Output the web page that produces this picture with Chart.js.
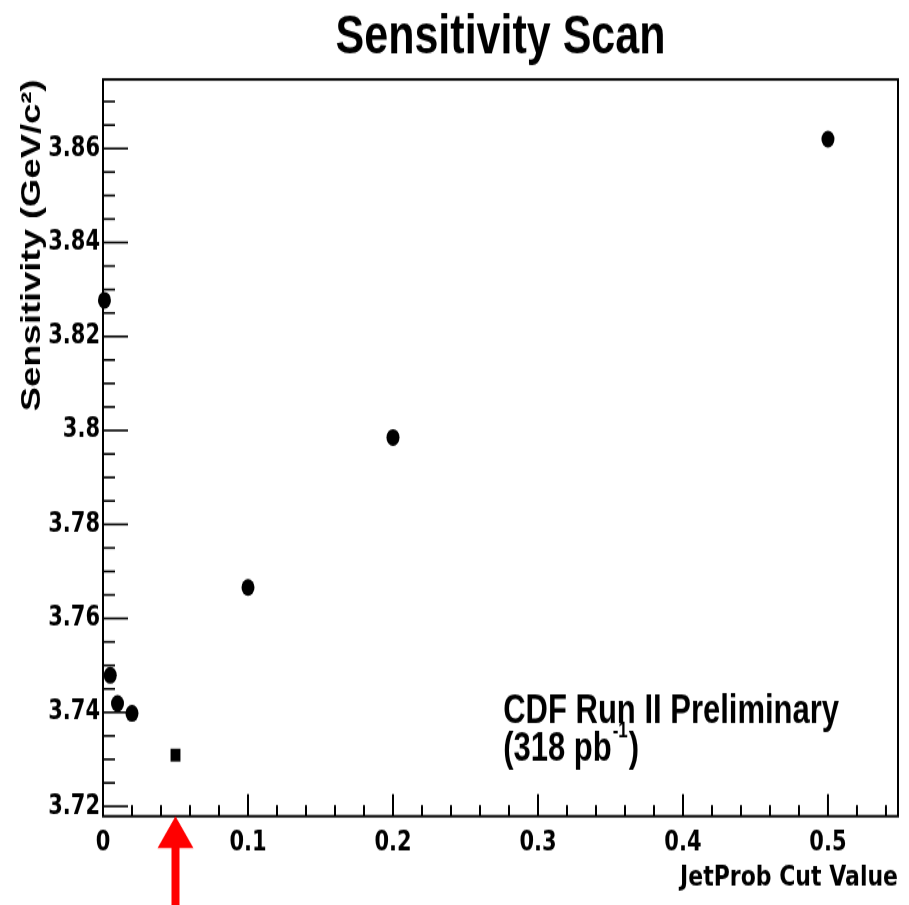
<!DOCTYPE html>
<html>
<head>
<meta charset="utf-8">
<script src="https://cdn.jsdelivr.net/npm/chart.js@4"></script>
<style>
  html, body { margin: 0; padding: 0; background: #fff; }
  #page { width: 909px; height: 905px; }
  /* the original picture is stretched vertically, so draw on a shorter canvas and stretch it */
  #wrap { width: 909px; height: 696px; transform: scaleY(1.3003); transform-origin: 0 0; }
</style>
</head>
<body>
<div id="page"><div id="wrap"><canvas id="myChart" width="909" height="696"></canvas></div></div>
<script>
// jet probability cut values that were scanned, and the sensitivity for each one
const cutValues = [0.001, 0.005, 0.01, 0.02, 0.05, 0.1, 0.2, 0.5];
const sensitivity = [3.8277, 3.7479, 3.7419, 3.7398, 3.7309, 3.7666, 3.7985, 3.8620];
// the chosen cut is drawn as a square
const markerStyle = ['circle', 'circle', 'circle', 'circle', 'rect', 'circle', 'circle', 'circle'];
const markerSize = [6.5, 6.5, 6.5, 6.5, 7, 6.5, 6.5, 6.5];

const xTickValues = [0, 0.1, 0.2, 0.3, 0.4, 0.5];
const yTickValues = [3.72, 3.74, 3.76, 3.78, 3.8, 3.82, 3.84, 3.86];
const chosenCut = 0.05;

const noteTitle = 'CDF Run II Preliminary';
const noteLumi = ['(318 pb', '-1', ')'];

const sansFont = 'Liberation Sans, Arial, Helvetica, sans-serif';
const tickFont = 'DejaVu Sans, sans-serif';

// ROOT style: ticks inside the frame, a full box, the note and the red arrow
const rootAxes = {
  id: 'rootAxes',
  afterDraw(chart) {
    const ctx = chart.ctx;
    const a = chart.chartArea;
    const xs = chart.scales.x;
    const ys = chart.scales.y;
    ctx.save();
    ctx.strokeStyle = '#000';

    // y ticks, minor every 0.005, major every 0.02
    ctx.lineWidth = 1.6;
    for (let i = 0; i <= 40; i++) {
      const v = 3.72 + i * 0.005;
      if (v > ys.max) break;
      const py = ys.getPixelForValue(v);
      const len = i % 4 === 0 ? 25 : 12;
      ctx.beginPath();
      ctx.moveTo(a.left, py);
      ctx.lineTo(a.left + len, py);
      ctx.stroke();
    }

    // x ticks, minor every 0.02, major every 0.1
    ctx.lineWidth = 2;
    for (let i = 0; i <= 40; i++) {
      const v = i * 0.02;
      if (v > xs.max) break;
      const px = xs.getPixelForValue(v);
      const len = i % 5 === 0 ? 17 : 8.5;
      ctx.beginPath();
      ctx.moveTo(px, a.bottom);
      ctx.lineTo(px, a.bottom - len);
      ctx.stroke();
    }

    ctx.lineWidth = 2;
    ctx.strokeRect(a.left, a.top, a.right - a.left, a.bottom - a.top);

    // note text
    const nx = xs.getPixelForValue(0.276);
    const ny = ys.getPixelForValue(3.7402);
    ctx.fillStyle = '#000';
    ctx.textBaseline = 'middle';
    ctx.textAlign = 'left';
    ctx.font = 'bold 31px ' + sansFont;
    ctx.fillText(noteTitle, nx, ny);
    const ly = ny + 29;
    ctx.fillText(noteLumi[0], nx, ly);
    let w = ctx.measureText(noteLumi[0]).width;
    ctx.font = 'bold 17px ' + sansFont;
    ctx.fillText(noteLumi[1], nx + w + 1, ly - 14);
    w += ctx.measureText(noteLumi[1]).width + 2;
    ctx.font = 'bold 31px ' + sansFont;
    ctx.fillText(noteLumi[2], nx + w, ly);

    // red arrow pointing at the chosen cut
    const ax = xs.getPixelForValue(chosenCut);
    ctx.fillStyle = '#ff0000';
    ctx.beginPath();
    ctx.moveTo(ax, a.bottom);
    ctx.lineTo(ax + 18, a.bottom + 24.5);
    ctx.lineTo(ax - 18, a.bottom + 24.5);
    ctx.closePath();
    ctx.fill();
    ctx.fillRect(ax - 4, a.bottom + 24, 8, chart.height - a.bottom - 24);

    ctx.restore();
  }
};

const ctx = document.getElementById('myChart');
const myChart = new Chart(ctx, {
  type: 'scatter',
  data: {
    datasets: [{
      label: 'Sensitivity',
      data: cutValues.map((x, i) => ({ x: x, y: sensitivity[i] })),
      pointStyle: markerStyle,
      pointRadius: markerSize,
      backgroundColor: '#000',
      borderColor: '#000',
      borderWidth: 0,
      clip: false
    }]
  },
  options: {
    responsive: false,
    animation: false,
    layout: { padding: { left: 8, right: 11, top: 0, bottom: 0 } },
    plugins: {
      legend: { display: false },
      tooltip: { enabled: false },
      title: {
        display: true,
        text: 'Sensitivity Scan',
        color: '#000',
        fullSize: false,
        font: { family: sansFont, size: 43, weight: 'bold' },
        padding: { top: 3, bottom: 6.5 }
      }
    },
    scales: {
      x: {
        type: 'linear',
        min: 0,
        max: 0.5483,
        grid: { display: false, drawTicks: false },
        border: { display: false },
        afterBuildTicks: (s) => { s.ticks = xTickValues.map(v => ({ value: v })); },
        afterFit: (s) => { s.height = 68.3; },
        ticks: {
          color: '#000',
          padding: 8,
          autoSkip: false,
          maxRotation: 0,
          font: { family: tickFont, size: 21, weight: 'bold' },
          callback: (v) => String(+(+v).toFixed(2))
        },
        title: {
          display: true,
          text: 'JetProb Cut Value',
          align: 'end',
          color: '#000',
          font: { family: tickFont, size: 22, weight: 'bold' },
          padding: { top: 0, bottom: 8 }
        }
      },
      y: {
        min: 3.7179,
        max: 3.8747,
        grid: { display: false, drawTicks: false },
        border: { display: false },
        afterBuildTicks: (s) => { s.ticks = yTickValues.map(v => ({ value: v })); },
        afterFit: (s) => { s.width = 95; },
        ticks: {
          color: '#000',
          padding: 3,
          autoSkip: false,
          font: { family: tickFont, size: 21, weight: 'bold' },
          callback: (v) => String(+(+v).toFixed(2))
        },
        title: {
          display: true,
          text: 'Sensitivity (GeV/c²)',
          align: 'end',
          color: '#000',
          font: { family: sansFont, size: 28, weight: 'bold' },
          padding: { top: 7, bottom: 0 }
        }
      }
    }
  },
  plugins: [rootAxes]
});
</script>
</body>
</html>
